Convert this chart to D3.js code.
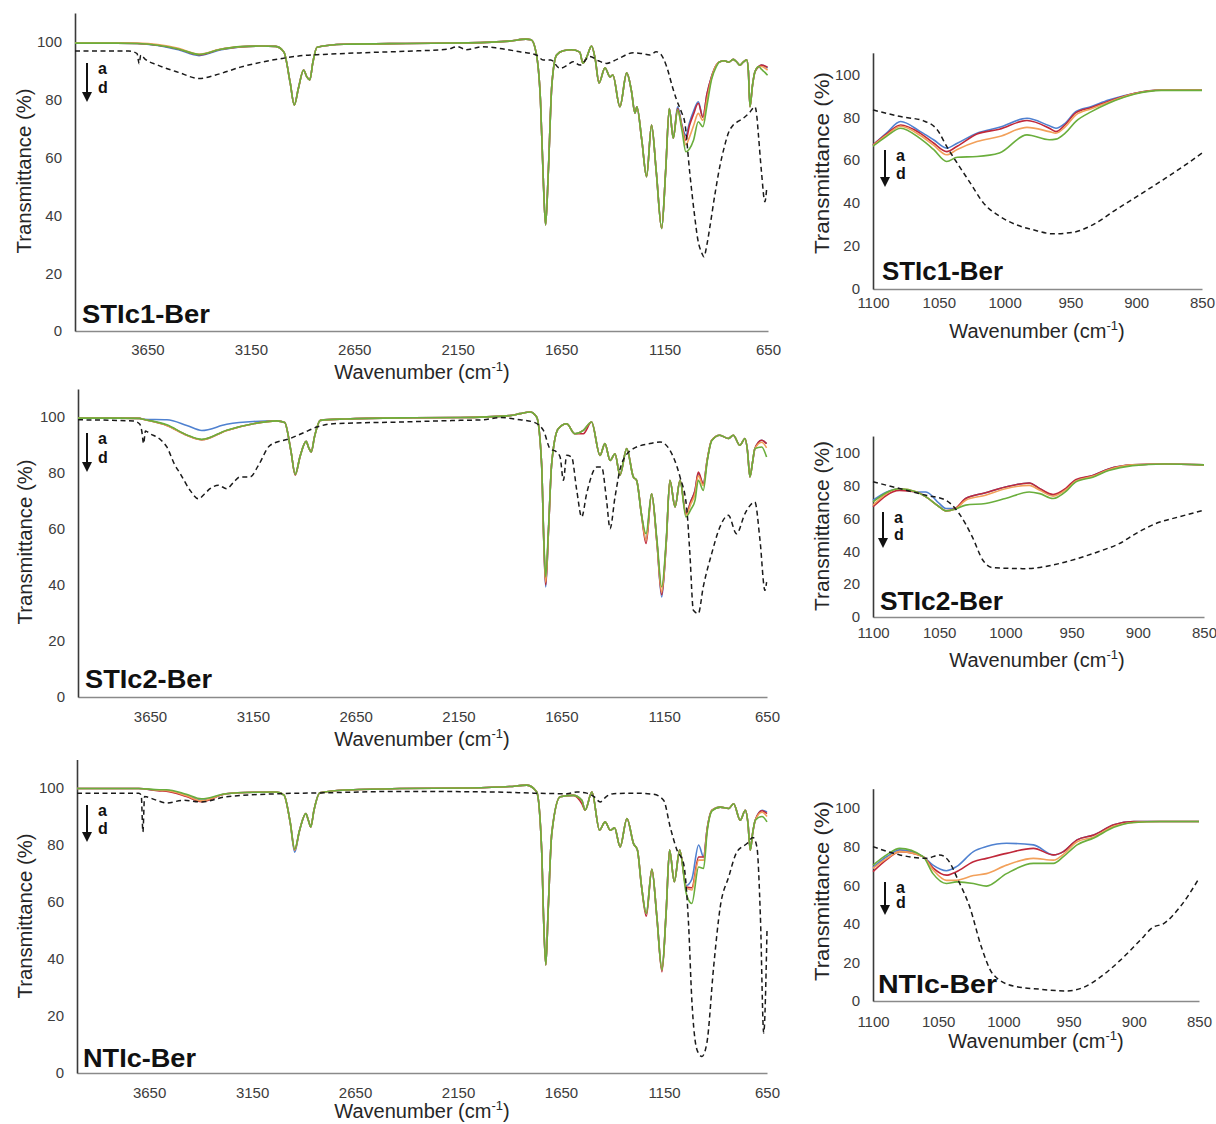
<!DOCTYPE html>
<html><head><meta charset="utf-8">
<script src="https://cdn.jsdelivr.net/npm/d3@7"></script>
<style>
body{margin:0;background:#fff}
svg{display:block}
text{font-family:"Liberation Sans",Arial,Helvetica,sans-serif}
</style>
</head><body>
<svg id="chart" width="1216" height="1124"></svg>
<script>
// ---------- tick labels ----------
const leftTicks = [3650, 3150, 2650, 2150, 1650, 1150, 650];
const rightTicks = [1100, 1050, 1000, 950, 900, 850];
const yTicks = [0, 20, 40, 60, 80, 100];
const seriesColors = ["#4f81d0", "#c0283a", "#f2a05a", "#6aae3c"]; // a, b, c, d
const panelNames = ["STIc1-Ber", "STIc2-Ber", "NTIc-Ber"];

// ---------- panel 1 (STIc1-Ber, full range) ----------
const p1Wn = [4000,3800,3700,3600,3500,3400,3300,3200,3100,3030,
  2990,2960,2940,2920,2895,2880,2865,2850,2830,2700,
  2400,2100,1900,1820,1795,1770,1750,1735,1725,1712,
  1695,1672,1640,1600,1560,1545,1525,1503,1485,1467,
  1438,1414,1400,1366,1333,1310,1293,1284,1260,1237,
  1213,1190,1164,1145,1127,1108,1087,1065,1047,1030,
  1010,987,965,945,923,900,883,860,840,818,
  800,786,770,753,745,737,725,713,695,681,665,652];
const p1A = [99.6,99.6,99.5,98.8,97.3,95.3,97.2,98.3,98.6,98.5,
  96.5,86,78.2,84,90.3,88,86.9,93,98.2,99.2,
  99.5,99.7,100.3,101,100.8,96,80,50,36.7,55,
  85,95.5,97,97.3,96.5,92.7,95,98.6,94,85.8,
  91.1,87.9,88.6,77.6,89.3,83,75.4,77.6,66,53.4,
  71.3,55,35.5,55,77,66.7,77.6,71,67.8,72,
  76,79.3,74,82,88,92,93.2,93.5,93,94,
  93,92,93,93.8,90,77.6,85,89.7,91.5,92,91.5,91];
const p1B = [99.6,99.6,99.5,98.9,97.6,95.6,97.4,98.3,98.6,98.5,
  96.5,86,78.2,84,90.3,88,86.9,93,98.2,99.2,
  99.5,99.7,100.3,101,100.8,96,80,50,36.7,55,
  85,95.5,97,97.3,96.5,92.7,95,98.6,94,85.8,
  91.1,87.9,88.6,77.6,89.3,83,75.4,77.6,66,53.4,
  71.3,55,35.5,55,77,66.7,77,70.5,66,71,
  75,78.8,74,82,88,92,93.2,93.5,93,94,
  93,92,93,93.8,90,77.6,85,89.7,91.5,92,91.7,91.3];
const p1C = [99.7,99.7,99.6,99.1,97.8,95.8,97.5,98.4,98.6,98.5,
  96.5,86,78.2,84,90.3,88,86.9,93,98.2,99.2,
  99.5,99.7,100.3,101,100.8,96,80,50,36.7,55,
  85,95.5,97,97.3,96.5,92.7,95,98.6,94,85.8,
  91.1,87.9,88.6,77.6,89.3,83,75.4,77.6,66,53.4,
  71.3,55,35.5,55,77,66.7,76.5,70,64.4,67,
  71,75.3,72.9,80,87.5,92,93.2,93.5,93,94,
  93,92,93,93.8,90,77.6,85,89.7,91.5,91.5,91,90.3];
const p1D = [99.6,99.6,99.5,98.9,97.6,95.7,97.4,98.4,98.6,98.5,
  96.5,86,78.2,84,90.3,88,86.9,93,98.2,99.2,
  99.5,99.7,100.3,101,100.8,96,80,50,36.7,55,
  85,95.5,97,97.3,96.5,92.7,95,98.6,94,85.8,
  91.1,87.9,88.6,77.6,89.3,83,75.4,77.6,66,53.4,
  71.3,55,35.5,55,77,66.7,76.5,69,62,63,
  66,72.4,70.7,78,87,91.5,93.2,93.5,93,94,
  93,92,93,93.8,90,77.6,85,89.7,91.5,90.5,89.5,88.5];
const p1RefWn = [4000,3740,3700,3690,3682,3660,3600,3500,3400,3300,
  3200,3100,3000,2900,2800,2600,2400,2200,2150,2110,
  2030,1950,1850,1770,1737,1700,1656,1620,1593,1559,
  1511,1470,1430,1380,1301,1260,1221,1190,1172,1140,
  1110,1092,1070,1052,1028,1005,989,970,960,945,
  931,905,883,860,842,818,795,770,740,713,
  705,697,681,665,657];
const p1Ref = [96.9,96.9,96,92.5,95.5,94,92,89.5,87.4,89,
  91.3,93,94.3,95.3,95.7,96.3,96.8,97.5,98.4,97.3,
  98.4,97.8,96.6,95.5,93.8,93.8,90.9,92,93.2,92,
  95,93.5,92.6,94,96.3,96,95.5,96.6,96.1,91.5,
  84,80,76,72,54.6,40,31.5,27,25.7,30,
  36,48,56.9,64,68.4,71.3,72.5,73.6,75.5,77.6,
  75,68.5,54.6,44.7,48.8];

// ---------- panel 2 (STIc2-Ber, full range) ----------
const p2Wn = [4000,3800,3700,3683,3568,3471,3398,3277,3147,3034,
  2995,2965,2944,2920,2891,2878,2866,2850,2822,2700,
  2434,2142,1900,1851,1802,1770,1746,1735,1726,1712,
  1697,1665,1624,1584,1543,1503,1462,1438,1413,1389,
  1365,1332,1300,1284,1260,1238,1211,1185,1162,1140,
  1122,1097,1073,1044,1020,1000,984,960,940,919,
  879,838,814,782,757,745,733,720,709,676,652];
const p2A = [99.6,99.6,99.5,99.2,99,97,95.2,97.4,98.4,98.6,
  98,88,79.5,86,91.3,89,87.5,93,98.8,99.3,
  99.7,99.8,100.5,101.2,101.8,100,83.3,55,39.3,60,
  83.3,95.8,97.6,94,95.2,98.2,86.3,90.5,84.5,86.9,
  79.2,88.7,78.6,77.4,65,56,72.6,55,35.7,55,
  77.4,67.9,77.4,65.5,70,73.8,79.8,76.2,85,91.7,
  93.5,92.3,93.5,89.9,92.3,88,78.6,84,88.7,91.7,90.5];
const p2B = [99.6,99.6,99.5,99.2,97,93.5,91.9,95.2,97.6,98.6,
  98,88,79.2,86,91.3,89,87.5,93,98.8,99.3,
  99.7,99.8,100.5,101.2,101.8,100,83.3,55,40,60,
  83.3,95.8,97.6,94,94,98.2,86.3,90.5,84.5,86.9,
  79.2,88.7,78.6,77.4,65,54.8,72.6,55,36.5,55,
  77.4,67.9,77.4,65.5,70,73.8,80.3,76.2,85,91.7,
  93.5,92.3,93.5,89.9,92.3,88,78.6,84,88.7,91.7,90.5];
const p2C = [99.6,99.6,99.5,99.2,97,93.5,91.9,95.2,97.6,98.6,
  98,88,79.5,86,91.3,89,87.5,93,98.8,99.3,
  99.7,99.8,100.5,101.2,101.8,100,83.3,55,41,60,
  83.3,95.8,97.6,94,95.2,98.2,86.3,90.5,84.5,86.9,
  79.2,88.7,78.6,77.4,65,56,72.6,55,37.5,55,
  77.4,67.9,77.4,65,69,72.6,79,75.5,85,91.7,
  93.5,92.3,93.5,89.9,92.3,88,78.6,84,88.7,91,89];
const p2D = [99.6,99.6,99.5,99.2,97.2,93.6,92,95.3,97.6,98.6,
  98,88,79.5,86,91.3,89,87.5,93,98.8,99.3,
  99.7,99.8,100.5,101.2,101.8,100,83.3,56,42.9,61,
  83.3,95.8,97.6,94,95.2,98.2,86.3,90.5,84.5,86.9,
  79.2,88.7,78.6,77.4,65,58.3,72.6,56,39.3,56,
  77.4,67.9,77.4,64.3,67,70.2,77.4,73.8,84.5,91.5,
  93.5,92.3,93.5,89.9,92.3,88,78.6,84,88.7,89.3,85.7];
const p2RefWn = [4000,3731,3700,3690,3681,3672,3649,3600,3568,3530,
  3503,3455,3414,3385,3358,3317,3277,3240,3212,3163,
  3123,3066,2969,2900,2839,2758,2434,2142,2029,1948,
  1850,1786,1737,1705,1673,1656,1640,1624,1600,1575,
  1551,1527,1478,1454,1430,1413,1389,1357,1300,1219,
  1170,1122,1073,1041,1025,1008,984,960,919,879,
  838,798,757,709,684,660,652];
const p2Ref = [99,98.6,97.5,95,90.5,95,94,92,89.3,83,
  79.8,73.8,70.8,72.5,74.4,75.6,74.4,77,78.6,78.6,
  82.7,89.9,92.3,94.5,96.4,97.6,98.2,98.8,99,99.8,
  99,98.2,95.2,88.7,87.5,85.7,77.4,86.3,85.7,73.8,
  64.3,72.6,82.1,82.1,70.2,60.1,71.4,83.3,88.7,90.5,
  91.1,88.1,78.6,67.9,51.2,31,29.8,39.3,51.2,60.7,
  64.9,58.3,65.5,69.6,56,38.1,41];

// ---------- panel 3 (NTIc-Ber, full range) ----------
const p3Wn = [4000,3700,3600,3567,3469,3396,3276,3140,3033,2995,
  2965,2943,2920,2889,2876,2865,2850,2821,2700,2432,
  2100,1900,1816,1768,1744,1735,1724,1712,1695,1654,
  1590,1549,1533,1500,1463,1436,1411,1390,1363,1330,
  1298,1279,1260,1236,1209,1185,1160,1140,1123,1100,
  1074,1042,1015,982,958,940,917,877,836,812,
  780,755,743,731,720,707,674,650];
const p3A = [99.8,99.8,99.2,99.2,97.4,95.7,98,98.5,98.6,97.5,
  88,77.5,85,91,88.5,86.3,92,98.3,99.3,99.8,
  100,100.5,101,98.6,78.2,55,37.9,58,84,96.9,
  97.4,95.7,92.2,98.6,85.2,88.1,85.2,86,79.3,89.3,
  80.5,78.2,66,56,71.5,55,36.2,56,78.2,67.1,
  78.2,65.8,68,80,75.8,86,92.2,93.3,92.8,94.5,
  88.7,92.2,88,78.2,84,88.7,92.2,91.6];
const p3B = [99.8,99.8,99,98.9,97,95.2,98,98.5,98.6,97.5,
  88,78.2,85,91,88.5,86.3,92,98.3,99.3,99.8,
  100,100.5,101,98.6,78.2,55,37.9,58,84,96.9,
  97.4,94.5,92.2,98.6,85.2,88.1,85.2,86,79.3,89.3,
  80.5,78.2,66,55,71.5,55,35.5,56,78.2,67.1,
  78.2,65.3,65,75.8,75.8,86,92.2,93.3,92.8,94.5,
  88.7,92.2,88,78.2,84,88.7,92,91];
const p3C = [99.8,99.8,99.2,99.1,97.3,95.5,98,98.5,98.6,97.5,
  88,78.2,85,91,88.5,86.3,92,98.3,99.3,99.8,
  100,100.5,101,98.6,78.2,55,37.9,58,84,96.9,
  97.4,95.7,92.2,98.6,85.2,88.1,85.2,86,79.3,89.3,
  80.5,78.2,66,56,71.5,55,36.2,56,78.2,67.1,
  78.2,65,64.2,74.7,74.7,85.5,92.2,93.3,92.8,94.5,
  88.7,92.2,88,78.2,84,88.7,91.5,90];
const p3D = [99.8,99.8,99.4,99.4,97.8,96.2,98,98.5,98.6,97.5,
  88,78.5,85,91,88.5,86.3,92,98.3,99.3,99.8,
  100,100.5,101,98.6,78.2,55,37.9,58,84,96.9,
  97.4,95.7,92.2,98.6,85.2,88.1,85.2,86,79.3,89.3,
  80.5,78.2,66,56,71.5,55,36.2,56,78.2,67.1,
  78.2,63,59.5,72.3,71.8,85,92,93.3,92.8,94.5,
  88.7,92.2,88,78.2,84,88.7,90,88.1];
const p3RefWn = [4000,3700,3688,3680,3672,3663,3614,3565,3484,3395,
  3276,3017,2800,2432,1978,1784,1622,1573,1525,1490,
  1460,1430,1395,1298,1201,1152,1120,1087,1055,1031,
  1015,990,966,942,909,877,836,796,747,718,
  699,682,666,650];
const p3Ref = [98.2,98.2,97.5,84.6,97,96.9,95.7,94.7,95.7,95.1,
  96.9,98,98.3,98.8,98.6,98.2,98,98.6,98.2,97,
  95.1,97,98,98.2,97.8,95.7,86.3,78.2,73.5,52.5,
  25.7,8.2,5.8,10.5,37.3,58.3,68.8,77.6,80.5,82.6,
  79.3,54.8,14,50];

// ---------- right panels (1100-850 cm-1 zoom) ----------
const r1Wn = [1100,1090,1079,1064,1054,1044,1036,1021,1004,983,966,961,954,946,934,921,901,881,850];
const r1A = [67.1,72.5,78,73.3,69.5,65.6,67.9,72.6,75.3,79.5,76,74.9,77.2,82.6,85,88,91.2,92.7,92.7];
const r1B = [67.1,72,76.4,72.5,68,64,66.5,72.2,74.4,78.5,74.9,73.3,76.5,82,84.5,87.5,91.2,92.7,92.7];
const r1C = [66.8,71.5,75.8,71.5,67,62.5,65,68.7,71,75.3,73.3,72.6,75.5,81,84,87,91,92.7,92.7];
const r1D = [66.5,71,74.9,70,65,59.4,61.4,61.7,63.3,71.8,69.5,69.8,72.6,78,82.6,86.5,90.8,92.5,92.5];
const r1RefWn = [1100,1079,1061.5,1051,1044,1036,1026,1016,1003.6,991,978.4,963,948,933,915.5,895.3,877.7,862.6,850];
const r1Ref = [83.4,80.3,78.3,74,66.4,58.6,49.3,40,33.8,29.9,27.6,25.7,26.4,29.9,36.9,44.7,51.6,57.8,63.3];

const r2Wn = [1100,1080,1067,1060,1050,1045,1038,1030,1015,1000,982,974,964,954,947,934,922,904,880,850];
const r2A = [71,78,76,76,69,66,66,72,75.5,79,81.5,78,74,78,83,86,90,92.5,93,92.5];
const r2B = [67,77,76,73,67,64.5,66,72,75.5,79,81.5,78,74.5,78.5,83.5,86,90,92.5,93,92.5];
const r2C = [68,78,76,73,67,64.5,65.5,71,74,78,80,77,73.5,77.5,82.5,85.5,89.5,92.5,93,92.5];
const r2D = [70,78,76,73,67,64.5,65.5,68,69,72,76,75,72,76.5,82,85,89,92,93,92.5];
const r2RefWn = [1100,1080,1060,1045,1035,1025,1017,1009.5,984.4,959.3,941.7,926.6,914,901.5,886.4,868.8,850];
const r2Ref = [82.2,78.1,74,71,62.9,48.7,34.5,30,29.4,32.5,36.5,40.6,44.6,50.7,56.8,60.9,64.9];

const r3Wn = [1100,1089,1079.5,1061.6,1054,1043.7,1036,1023,1013,997.6,977,961.6,954,943.5,930.7,915.3,900,880,850];
const r3A = [69.2,75,78.3,74.8,70.4,67.5,69.6,77.4,80,81.7,80.9,75.7,77.4,83.5,86,91.3,93,93,93];
const r3B = [67,73.5,77.4,74.8,69,65.2,67,72.2,73.9,76.5,79.1,75.7,77.4,83.5,86,91.3,93,93,93];
const r3C = [68.7,74,77.4,74.8,68,62.5,62.6,65,66,70.4,73.9,73,76,82.5,85,90.5,92.5,93,93];
const r3D = [70.4,76,79.1,74.8,66,60.9,61.7,60.9,59.5,66,71.3,71.3,74.8,80.9,84.5,90,92.5,93,93];
const r3RefWn = [1100,1079.5,1059,1049,1042.4,1034.7,1025.8,1016.8,1008,992.5,972,951.6,938.8,926,910.7,895.3,885,877.4,864.6,850];
const r3Ref = [80,75.7,73.9,75.7,73,62.6,48.7,27.8,13.9,7.8,6.1,5.2,7,12.2,20.9,31.3,38.3,40,48.7,63.5];

// ---------- layout ----------
const panels = [
  {wn:p1Wn, ser:[p1A,p1B,p1C,p1D], refWn:p1RefWn, ref:p1Ref, dom:[4000,650], ticks:leftTicks, name:panelNames[0],
   xr:[75,768], y0:331, y100:42, pad:13, xt:[422,379], yt:[24,171,165,20], lab:[82,323,128], arr:[87,63,102]},
  {wn:p2Wn, ser:[p2A,p2B,p2C,p2D], refWn:p2RefWn, ref:p2Ref, dom:[4000,650], ticks:leftTicks, name:panelNames[1],
   xr:[78,767], y0:697, y100:417, pad:14, xt:[422,746], yt:[25,542,165,20], lab:[85,688,127], arr:[87,433,472]},
  {wn:p3Wn, ser:[p3A,p3B,p3C,p3D], refWn:p3RefWn, ref:p3Ref, dom:[4000,650], ticks:leftTicks, name:panelNames[2],
   xr:[77,767], y0:1073, y100:788, pad:14, xt:[422,1118], yt:[25,916,165,20], lab:[83,1067,113], arr:[87,805,842]},
  {wn:r1Wn, ser:[r1A,r1B,r1C,r1D], refWn:r1RefWn, ref:r1Ref, dom:[1100,850], ticks:rightTicks, name:panelNames[0],
   xr:[873,1202], y0:289, y100:74.3, pad:8, xt:[1037,338], yt:[821,163,182,21], lab:[882,280,121], arr:[885,150,187]},
  {wn:r2Wn, ser:[r2A,r2B,r2C,r2D], refWn:r2RefWn, ref:r2Ref, dom:[1100,850], ticks:rightTicks, name:panelNames[1],
   xr:[873,1204], y0:617, y100:452.5, pad:10, xt:[1037,667], yt:[821,526,170,21], lab:[880,610,123], arr:[883,512,548]},
  {wn:r3Wn, ser:[r3A,r3B,r3C,r3D], refWn:r3RefWn, ref:r3Ref, dom:[1100,850], ticks:rightTicks, name:panelNames[2],
   xr:[873,1199], y0:1001, y100:808, pad:15, xt:[1036,1048], yt:[821,891,180,21], lab:[878,993,119], arr:[885,882,915]}
];

const svg = d3.select("#chart");
svg.append("rect").attr("width",1216).attr("height",1124).attr("fill","#fff");

panels.forEach(p => {
  const g = svg.append("g");
  const x = d3.scaleLinear().domain(p.dom).range(p.xr);
  const yTop = p.y0 - 1.1 * (p.y0 - p.y100);
  const y = d3.scaleLinear().domain([0,110]).range([p.y0, yTop]);

  // x axis
  const xa = g.append("g").attr("transform",`translate(0,${y(0)})`)
    .call(d3.axisBottom(x).tickValues(p.ticks).tickSize(0).tickSizeOuter(0).tickPadding(p.pad).tickFormat(d3.format("d")));
  xa.select(".domain").attr("stroke","#8a8a8a").attr("stroke-width",1.6);
  xa.selectAll("text").attr("font-size",15).attr("fill","#3c3c3c")
    .attr("font-family",'"Liberation Sans",Arial,sans-serif');

  // y axis
  const ya = g.append("g").attr("transform",`translate(${p.xr[0]},0)`)
    .call(d3.axisLeft(y).tickValues(yTicks).tickSize(0).tickSizeOuter(0).tickPadding(13));
  ya.select(".domain").attr("stroke","#3a3a3a").attr("stroke-width",1.6);
  ya.selectAll("text").attr("font-size",15).attr("fill","#3c3c3c")
    .attr("font-family",'"Liberation Sans",Arial,sans-serif');

  // lines
  const line = d3.line().curve(d3.curveMonotoneX);
  p.ser.forEach((s,i) => {
    g.append("path")
      .attr("d", line(p.wn.map((w,j) => [x(w), y(s[j])])))
      .attr("fill","none").attr("stroke",seriesColors[i]).attr("stroke-width",1.6)
      .attr("stroke-linejoin","round");
  });
  g.append("path")
    .attr("d", line(p.refWn.map((w,j) => [x(w), y(p.ref[j])])))
    .attr("fill","none").attr("stroke","#1a1a1a").attr("stroke-width",1.5)
    .attr("stroke-dasharray","5,3.5");

  // axis titles
  const xt = g.append("text").attr("x",p.xt[0]).attr("y",p.xt[1])
    .attr("text-anchor","middle").attr("font-size",20).attr("fill","#262626");
  xt.append("tspan").text("Wavenumber (cm");
  xt.append("tspan").attr("font-size",13).attr("dy",-8).text("-1");
  xt.append("tspan").attr("dy",8).text(")");

  g.append("text")
    .attr("transform",`translate(${p.yt[0]},${p.yt[1]}) rotate(-90)`)
    .attr("text-anchor","middle").attr("dominant-baseline","central")
    .attr("font-size",p.yt[3]).attr("fill","#262626")
    .attr("textLength",p.yt[2]).attr("lengthAdjust","spacingAndGlyphs")
    .text("Transmittance (%)");

  // panel label
  g.append("text").attr("x",p.lab[0]).attr("y",p.lab[1])
    .attr("font-size",26).attr("font-weight","bold").attr("fill","#111")
    .attr("textLength",p.lab[2]).attr("lengthAdjust","spacingAndGlyphs")
    .text(p.name);

  // arrow a -> d
  const [ax, at, ab] = p.arr;
  g.append("line").attr("x1",ax).attr("x2",ax).attr("y1",at).attr("y2",ab-6)
    .attr("stroke","#111").attr("stroke-width",2);
  g.append("path").attr("d",`M${ax-5},${ab-10}L${ax+5},${ab-10}L${ax},${ab}Z`).attr("fill","#111");
  g.append("text").attr("x",ax+11).attr("y",at+11).attr("font-size",16).attr("font-weight","bold")
    .attr("fill","#111").text("a");
  g.append("text").attr("x",ax+11).attr("y",at+ (ab-at)*0.78).attr("font-size",16).attr("font-weight","bold")
    .attr("fill","#111").text("d");
});
</script>
</body></html>
